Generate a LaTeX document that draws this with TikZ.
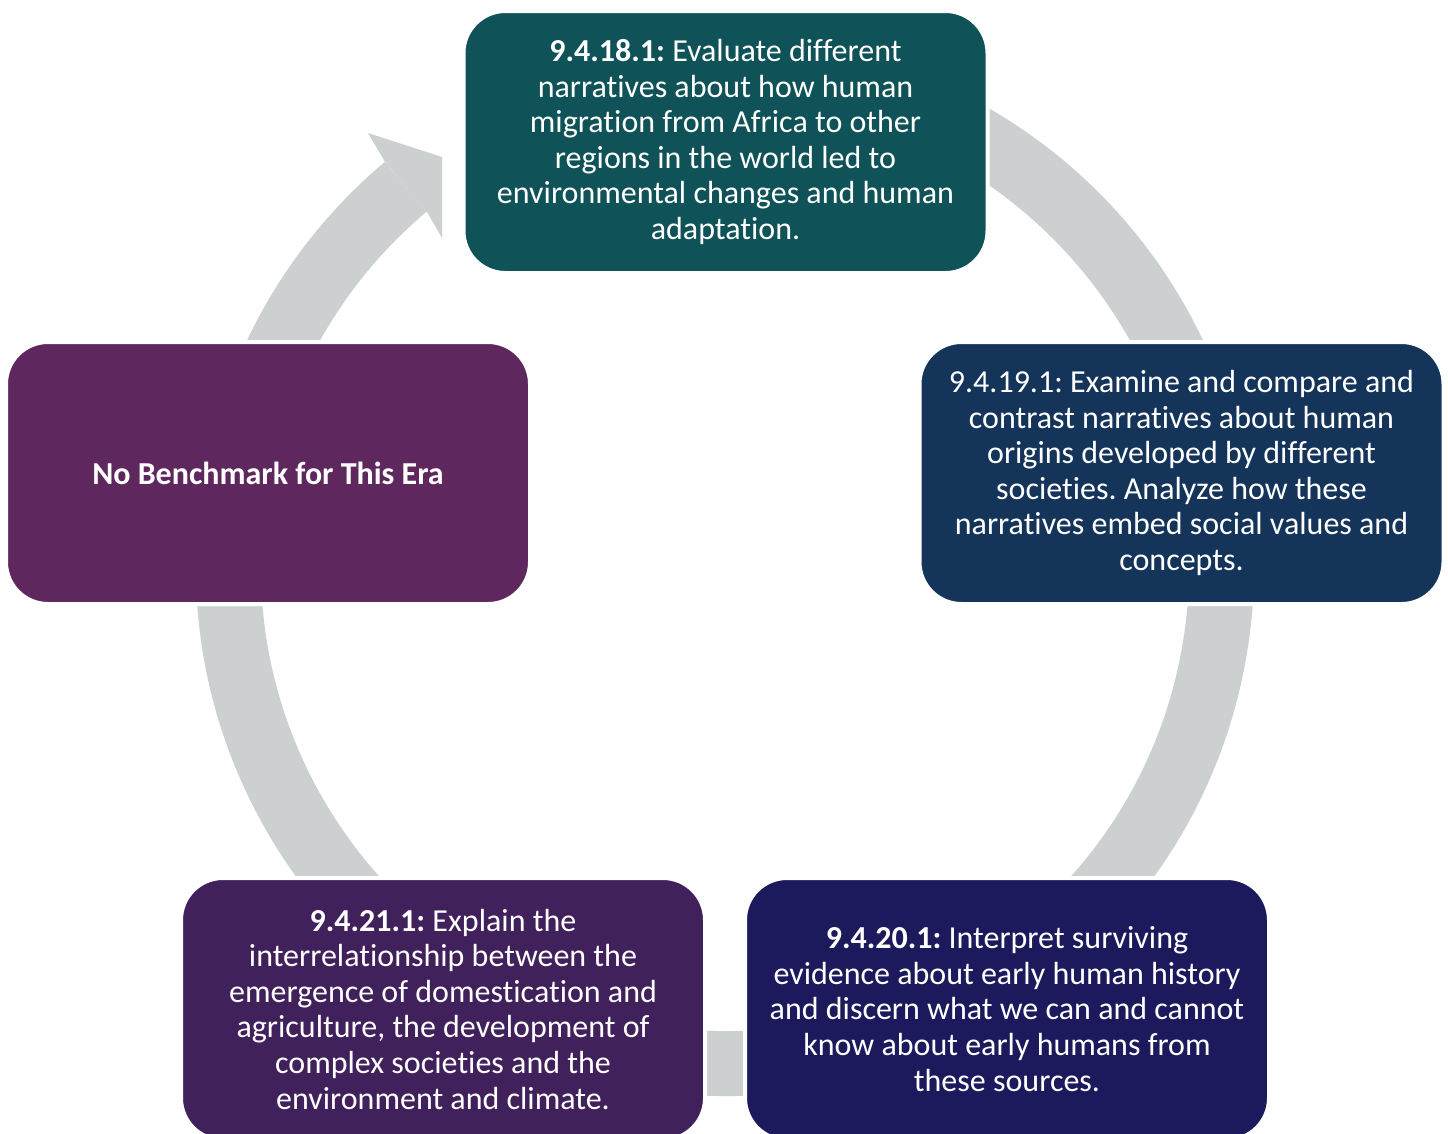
\documentclass[tikz,border=0pt]{standalone}
\usepackage{fontspec}
\setmainfont{Carlito}[Ligatures={NoCommon}]
\usetikzlibrary{calc}
\definecolor{cteal}{HTML}{0F5257}
\definecolor{cnavy}{HTML}{14345A}
\definecolor{cindigo}{HTML}{1C1A5C}
\definecolor{cplum}{HTML}{41215B}
\definecolor{cpurple}{HTML}{5E285E}
\definecolor{ringgrey}{HTML}{CDD0D1}
\frenchspacing
\begin{document}
\begin{tikzpicture}[x=1pt,y=-1pt,
  box/.style={rounded corners=42pt, minimum width=524pt, minimum height=262pt,
    draw=white, line width=4pt, text=white, align=center,
    font=\fontsize{32}{35.6}\selectfont, inner sep=0pt},
  ring/.style={draw=ringgrey, line width=65pt}]
\useasboundingbox (0,0) rectangle (1448,1133);
\clip (0,0) rectangle (1448,1133);
\fill[white] (0,0) rectangle (1448,1133);
\coordinate (C) at (725,567);
% grey cycle ring
\draw[ring] ([shift={(-80:496.5)}]C) arc[start angle=-80, end angle=230, radius=496.5];
\coordinate (hOut) at ([shift={(230:529)}]C);
\coordinate (hIn) at ([shift={(230:464)}]C);
\coordinate (hWingO) at (368,133);
\coordinate (hCutT) at (442,157);
\coordinate (hCutB) at (442,238);
\fill[ringgrey] (hOut) -- (hWingO) -- (hCutT) -- (hCutB) -- (hIn) -- cycle;
% boxes
\node[box, fill=cteal] (b1) at (725.5,142) {\textbf{9.4.18.1:} Evaluate different\\narratives about how human\\migration from Africa to other\\regions in the world led to\\environmental changes and human\\adaptation.};
\node[box, fill=cnavy] (b2) at (1181.5,473) {9.4.19.1: Examine and compare and\\contrast narratives about human\\origins developed by different\\societies. Analyze how these\\narratives embed social values and\\concepts.};
\node[box, fill=cindigo] (b3) at (1007,1009) {\textbf{9.4.20.1:} Interpret surviving\\evidence about early human history\\and discern what we can and cannot\\know about early humans from\\these sources.};
\node[box, fill=cplum] (b4) at (443,1009) {\textbf{9.4.21.1:} Explain the\\interrelationship between the\\emergence of domestication and\\agriculture, the development of\\complex societies and the\\environment and climate.};
\node[box, fill=cpurple] (b5) at (268,473) {\textbf{No Benchmark for This Era}};
\end{tikzpicture}
\end{document}
